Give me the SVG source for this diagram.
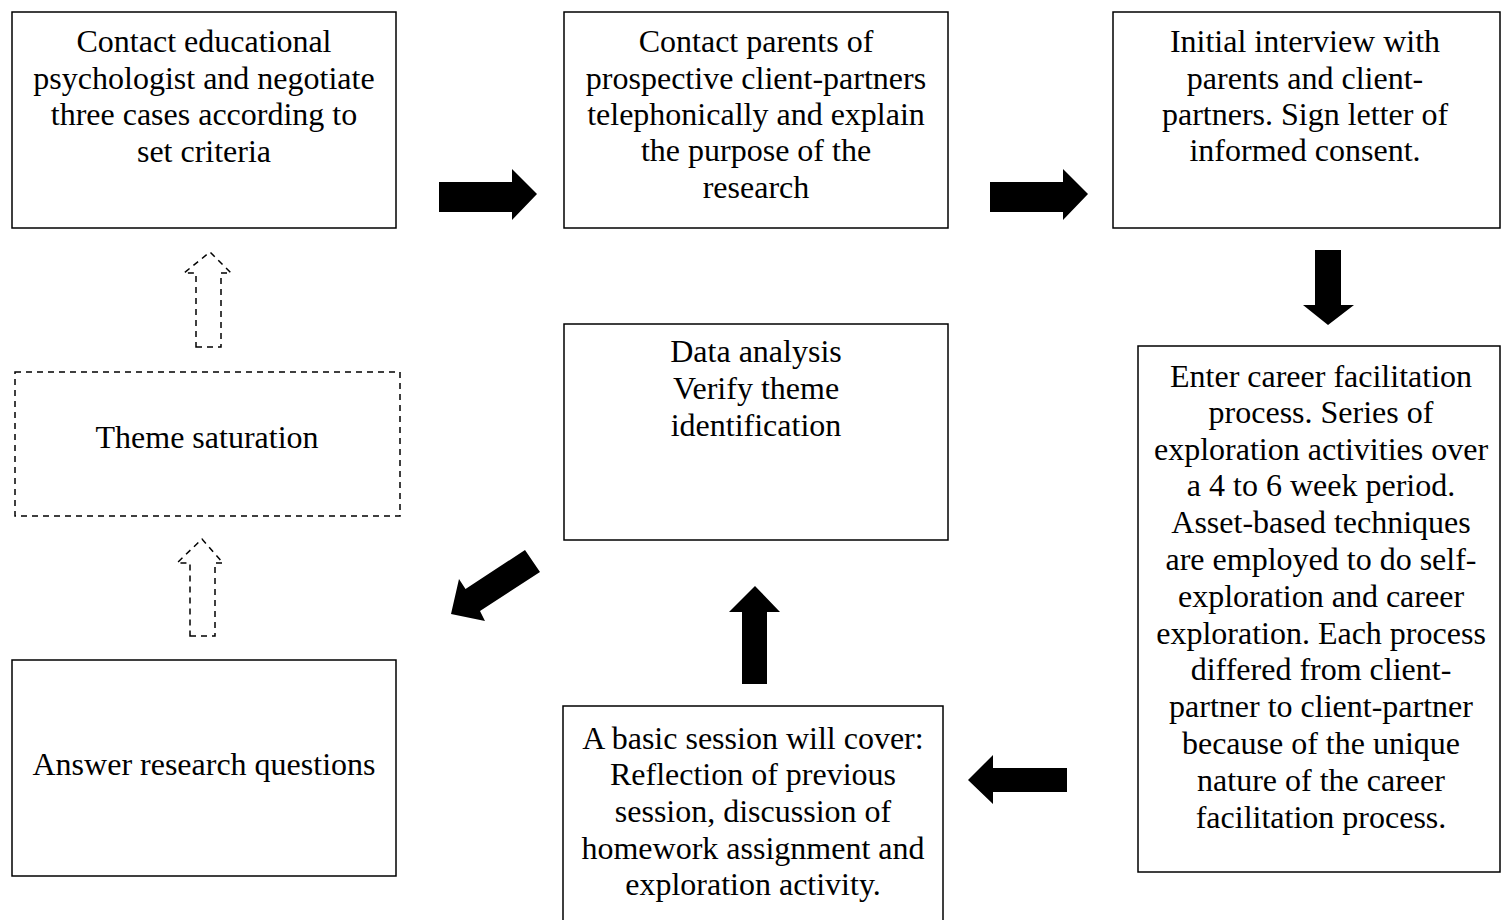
<svg xmlns="http://www.w3.org/2000/svg" width="1501" height="920" viewBox="0 0 1501 920">
<style>
.box{fill:#fff;stroke:#000;stroke-width:1.5}
.dbox{fill:none;stroke:#000;stroke-width:1.5;stroke-dasharray:6,5}
.arr{fill:#000;stroke:none}
.darr{fill:none;stroke:#000;stroke-width:1.5;stroke-dasharray:6,5}
text{font-family:"Liberation Serif","Times New Roman",serif;font-size:32px;fill:#000;text-anchor:middle}
</style>
<rect width="1501" height="920" fill="#fff"/>
<g id="n1"><rect class="box" x="12" y="12" width="384" height="216"/>
<text x="204" y="52">Contact educational</text><text x="204" y="89">psychologist and negotiate</text><text x="204" y="125">three cases according to</text><text x="204" y="162">set criteria</text></g>
<g id="n2"><rect class="box" x="564" y="12" width="384" height="216"/>
<text x="756" y="52">Contact parents of</text><text x="756" y="89">prospective client-partners</text><text x="756" y="125">telephonically and explain</text><text x="756" y="161">the purpose of the</text><text x="756" y="198">research</text></g>
<g id="n3"><rect class="box" x="1113" y="12" width="387" height="216"/>
<text x="1305" y="52">Initial interview with</text><text x="1305" y="89">parents and client-</text><text x="1305" y="125">partners. Sign letter of</text><text x="1305" y="161">informed consent.</text></g>
<g id="n4"><rect class="box" x="1138" y="346" width="362" height="526"/>
<text x="1321" y="387">Enter career facilitation</text><text x="1321" y="423">process. Series of</text><text x="1321" y="460">exploration activities over</text><text x="1321" y="496">a 4 to 6 week period.</text><text x="1321" y="533">Asset-based techniques</text><text x="1321" y="570">are employed to do self-</text><text x="1321" y="607">exploration and career</text><text x="1321" y="644">exploration. Each process</text><text x="1321" y="680">differed from client-</text><text x="1321" y="717">partner to client-partner</text><text x="1321" y="754">because of the unique</text><text x="1321" y="791">nature of the career</text><text x="1321" y="828">facilitation process.</text></g>
<g id="n5"><rect class="box" x="563" y="706" width="380" height="216"/>
<text x="753" y="749">A basic session will cover:</text><text x="753" y="785">Reflection of previous</text><text x="753" y="822">session, discussion of</text><text x="753" y="859">homework assignment and</text><text x="753" y="895">exploration activity.</text></g>
<g id="n6"><rect class="box" x="564" y="324" width="384" height="216"/>
<text x="756" y="362">Data analysis</text><text x="756" y="399">Verify theme</text><text x="756" y="436">identification</text></g>
<g id="n7"><rect class="dbox" x="15" y="372" width="385" height="144"/>
<text x="207" y="448">Theme saturation</text></g>
<g id="n8"><rect class="box" x="12" y="660" width="384" height="216"/>
<text x="204" y="775">Answer research questions</text></g>
<g id="connectors">
<polygon class="arr" points="439,182 512,182 512,169 537,194 512,220 512,212 439,212"/>
<polygon class="arr" points="990,182 1063,182 1063,169 1088,194 1063,220 1063,212 990,212"/>
<polygon class="arr" points="1315,250 1341,250 1341,305 1354,305 1328,325 1303,305 1315,305"/>
<polygon class="arr" points="1067,768 993,768 993,755 968,780 993,804 993,792 1067,792"/>
<polygon class="arr" points="742,684 767,684 767,612 780,612 755,586 729,612 742,612"/>
<polygon class="arr" points="525,550 540,572 480,611 485,621 451,614 459,579 465.5,589"/>
<polygon class="darr" points="196,347 221,347 221,273 231,273 210,252 184,273 196,273"/>
<polygon class="darr" points="190,636 215,636 215,563 223,563 202,539 177,563 190,563"/>
</g>
</svg>
